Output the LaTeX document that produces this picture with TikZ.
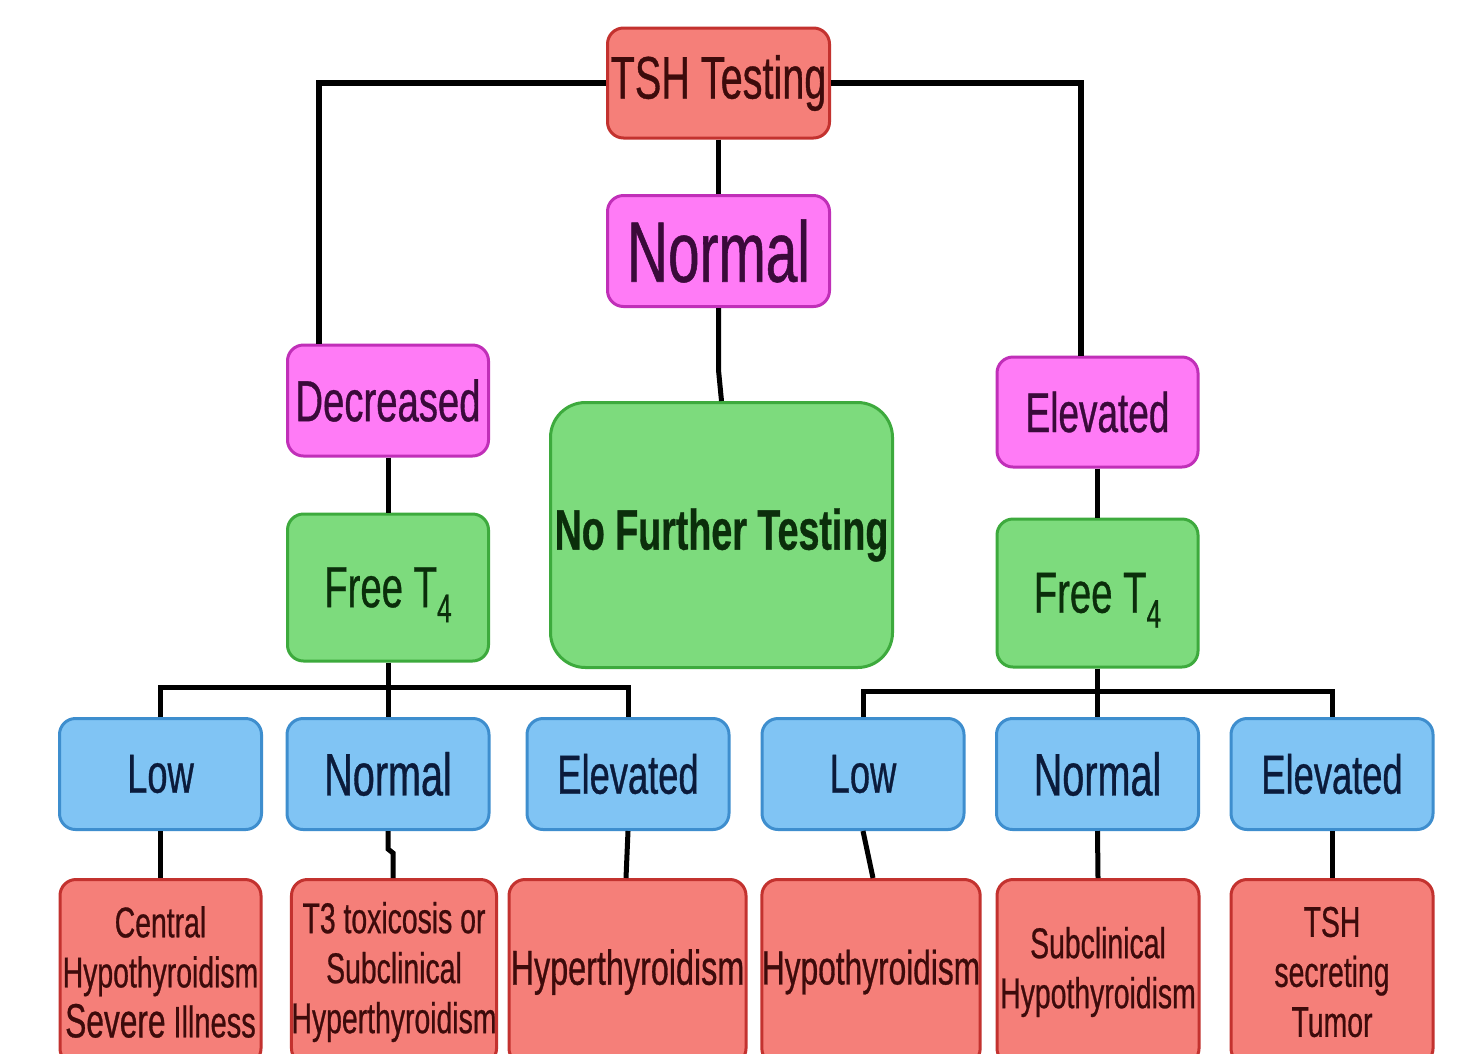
\documentclass[tikz,border=0pt]{standalone}
\usepackage{fontspec}
\setmainfont{Liberation Sans}[FakeStretch=0.66,FakeBold=0.6]
\definecolor{redfill}{HTML}{F57F79}
\definecolor{redline}{HTML}{C3322F}
\definecolor{redtext}{HTML}{3D0B0B}
\definecolor{magfill}{HTML}{FF7BF6}
\definecolor{magline}{HTML}{C02FB8}
\definecolor{magtext}{HTML}{3A0A3A}
\definecolor{grnfill}{HTML}{7DDB7D}
\definecolor{grnline}{HTML}{3DAA3D}
\definecolor{grntext}{HTML}{0B2E0B}
\definecolor{blufill}{HTML}{80C4F4}
\definecolor{bluline}{HTML}{3E8ECE}
\definecolor{blutext}{HTML}{0B1B3B}
\newcommand{\fsz}[1]{\fontsize{#1}{#1}\selectfont}
\newcommand{\subfour}{\smash{\raisebox{-15pt}{\fsz{40}4}}}
\begin{document}
\begin{tikzpicture}[x=1pt,y=-1pt,
  nbox/.style={draw, line width=3pt, rounded corners=16pt, inner sep=0pt, align=center},
  redbox/.style={nbox, fill=redfill, draw=redline, text=redtext},
  magbox/.style={nbox, fill=magfill, draw=magline, text=magtext},
  grnbox/.style={nbox, fill=grnfill, draw=grnline, text=grntext},
  blubox/.style={nbox, fill=blufill, draw=bluline, text=blutext, minimum width=202pt, minimum height=111pt},
  botbox/.style={redbox, minimum height=185pt, font=\fontsize{43}{50}\selectfont},
  conn/.style={draw=black, line width=5pt},
  topconn/.style={draw=black, line width=6.5pt}]
\clip (0,0) rectangle (1479,1053);
\fill[white] (0,0) rectangle (1479,1053);

% top levels
\node[redbox, minimum width=222pt, minimum height=110pt, font=\fsz{60}] (tsh) at (718.5,83) {TSH Testing};
\node[magbox, minimum width=222pt, minimum height=111pt, font=\fsz{86}] (norm) at (718.5,251) {Normal};
\node[magbox, minimum width=201pt, minimum height=111pt, font=\fsz{58}] (dec) at (388,400.5) {Decreased};
\node[magbox, minimum width=201pt, minimum height=110pt, font=\fsz{56}] (elev) at (1097.5,412) {Elevated};
\node[grnbox, rounded corners=35pt, minimum width=342pt, minimum height=265pt, font=\fsz{57}\bfseries] (nft) at (721.5,535) {No Further Testing};
\node[grnbox, minimum width=201pt, minimum height=147pt, font=\fsz{58}] (ft4l) at (388,587.5) {Free T\subfour};
\node[grnbox, minimum width=201pt, minimum height=148pt, font=\fsz{58}] (ft4r) at (1097.5,593) {Free T\subfour};

% blue row
\node[blubox, font=\fsz{55}] (bl1) at (160.5,774) {Low};
\node[blubox, font=\fsz{60}] (bl2) at (388,774) {Normal};
\node[blubox, font=\fsz{55}] (bl3) at (628,774) {Elevated};
\node[blubox, font=\fsz{55}] (br1) at (863,774) {Low};
\node[blubox, font=\fsz{60}] (br2) at (1097.5,774) {Normal};
\node[blubox, font=\fsz{55}] (br3) at (1332,774) {Elevated};

% bottom row
\node[botbox, minimum width=201pt] (rd1) at (160.5,972) {Central\\Hypothyroidism\\{\fsz{48}Severe} {\fsz{44}Illness}};
\node[botbox, minimum width=200pt] (rd2) at (394,972) {T3 toxicosis or\\Subclinical\\Hyperthyroidism};
\node[botbox, minimum width=237pt, font=\fsz{49}] (rd3) at (627.5,972) {Hyperthyroidism};
\node[botbox, minimum width=218pt, font=\fsz{48}] (rd4) at (871,972) {Hypothyroidism};
\node[botbox, minimum width=202pt] (rd5) at (1098,972) {Subclinical\\Hypothyroidism};
\node[botbox, minimum width=202pt] (rd6) at (1332,972) {TSH\\secreting\\Tumor};

% connectors
\draw[topconn] (tsh.west) -| ([xshift=-69pt]dec.north);
\draw[topconn] (tsh.east) -| ([xshift=-16.5pt]elev.north);
\draw[conn] (tsh.south) -- (norm.north);
\draw[conn] (norm.south) -- ++(0,62) -- (nft.north);
\draw[conn] (dec.south) -- (ft4l.north);
\draw[conn] (elev.south) -- (ft4r.north);
\draw[conn] (bl1.north) -- ++(0,-30) -| (bl3.north);
\draw[conn] (ft4l.south) -- (bl2.north);
\draw[conn] (br1.north) -- ++(0,-26) -| (br3.north);
\draw[conn] (ft4r.south) -- (br2.north);
\draw[conn] (bl1.south) -- (rd1.north);
\draw[conn] (bl2.south) -- ++(0,18) -- ++(5,4) -- ([xshift=-1pt]rd2.north);
\draw[conn] (bl3.south) -- ([xshift=-1.5pt]rd3.north);
\draw[conn] (br1.south) -- ([xshift=2pt]rd4.north);
\draw[conn] (br2.south) -- (rd5.north);
\draw[conn] (br3.south) -- (rd6.north);
\end{tikzpicture}
\end{document}
